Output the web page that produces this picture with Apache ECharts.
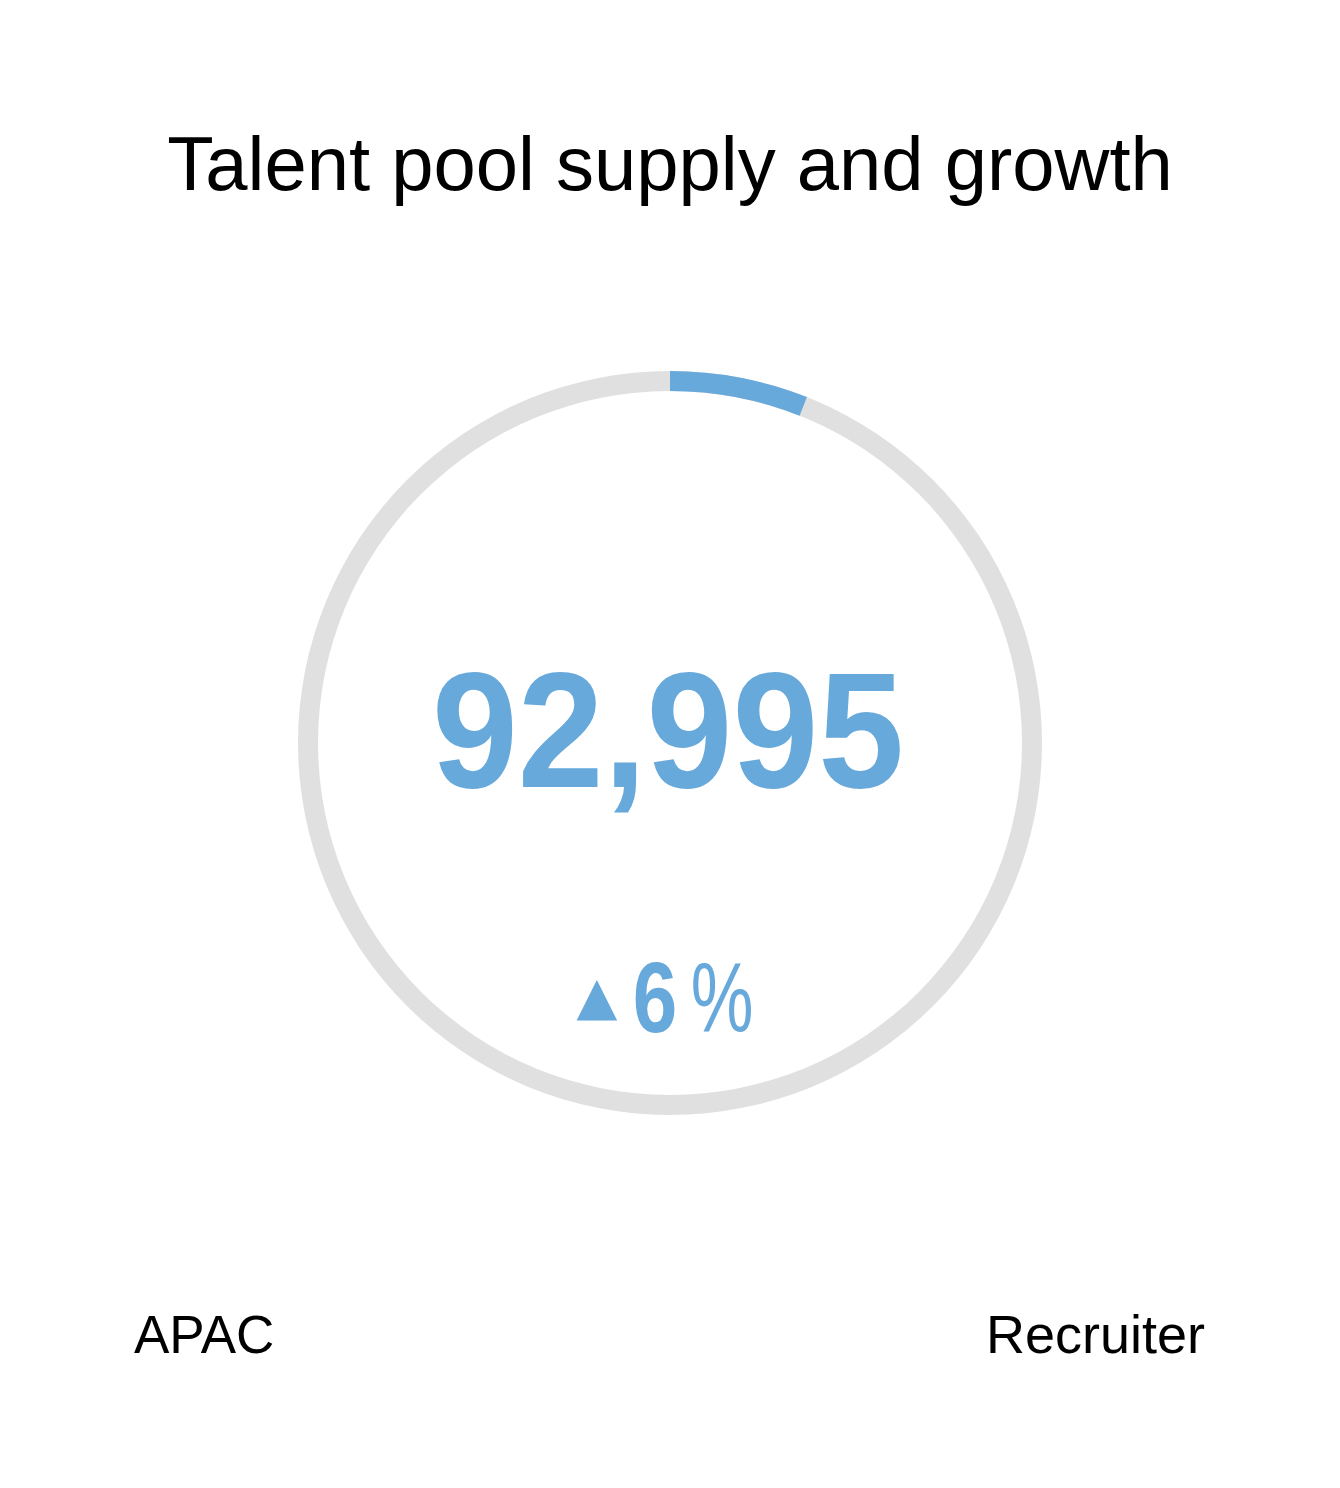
<!DOCTYPE html>
<html>
<head>
<meta charset="utf-8">
<title>Talent pool supply and growth</title>
<script src="https://cdn.jsdelivr.net/npm/echarts@6/dist/echarts.min.js"></script>
<style>
  html, body { margin: 0; padding: 0; background: #fff; }
  #main { width: 1340px; height: 1488px; }
</style>
</head>
<body>
<div id="main"></div>
<script>
var chartTitle = 'Talent pool supply and growth';
var totalSupply = [92995];
var growthPct = [6];
var footerLabels = ['APAC', 'Recruiter'];

var blue = '#67a9db';
var grey = '#e0e0e0';

var myChart = echarts.init(document.getElementById('main'));

var option = {
    backgroundColor: '#fff',
    animation: false,
    title: {
        text: chartTitle,
        left: 'center',
        top: 126,
        textStyle: {
            fontFamily: 'Liberation Sans',
            fontWeight: 'normal',
            fontSize: 76,
            color: '#000'
        }
    },
    series: [{
        type: 'gauge',
        center: [670, 743],
        radius: 372,
        startAngle: 90,
        endAngle: -270,
        min: 0,
        max: 100,
        progress: {
            show: true,
            width: 20,
            roundCap: false,
            itemStyle: { color: blue }
        },
        axisLine: {
            lineStyle: { width: 20, color: [[1, grey]] }
        },
        pointer: { show: false },
        axisTick: { show: false },
        splitLine: { show: false },
        axisLabel: { show: false },
        anchor: { show: false },
        title: { show: false },
        detail: { show: false },
        data: [{ value: growthPct[0] }]
    }],
    graphic: [
        {
            type: 'text',
            x: 668, y: 741,
            scaleX: 0.93,
            style: {
                text: totalSupply[0].toLocaleString('en-US'),
                fontFamily: 'Liberation Sans',
                fontWeight: 'bold',
                fontSize: 166,
                fill: blue,
                textAlign: 'center',
                textVerticalAlign: 'middle'
            }
        },
        {
            type: 'text',
            x: 597, y: 1000,
            style: {
                text: '\u25B2',
                fontFamily: 'DejaVu Sans',
                fontSize: 53,
                fill: blue,
                textAlign: 'center',
                textVerticalAlign: 'middle'
            }
        },
        {
            type: 'text',
            x: 655, y: 1004,
            scaleX: 0.8,
            style: {
                text: String(growthPct[0]),
                fontFamily: 'Liberation Sans',
                fontWeight: 'bold',
                fontSize: 100,
                fill: blue,
                textAlign: 'center',
                textVerticalAlign: 'middle'
            }
        },
        {
            type: 'text',
            x: 722, y: 1004,
            scaleX: 0.72,
            style: {
                text: '%',
                fontFamily: 'Liberation Sans',
                fontWeight: 'normal',
                fontSize: 98,
                fill: blue,
                textAlign: 'center',
                textVerticalAlign: 'middle'
            }
        },
        {
            type: 'text',
            x: 134, y: 1338,
            style: {
                text: footerLabels[0],
                fontFamily: 'Liberation Sans',
                fontSize: 53,
                fill: '#000',
                textAlign: 'left',
                textVerticalAlign: 'middle'
            }
        },
        {
            type: 'text',
            x: 1205, y: 1338,
            style: {
                text: footerLabels[1],
                fontFamily: 'Liberation Sans',
                fontSize: 54,
                fill: '#000',
                textAlign: 'right',
                textVerticalAlign: 'middle'
            }
        }
    ]
};

myChart.setOption(option);
</script>
</body>
</html>
